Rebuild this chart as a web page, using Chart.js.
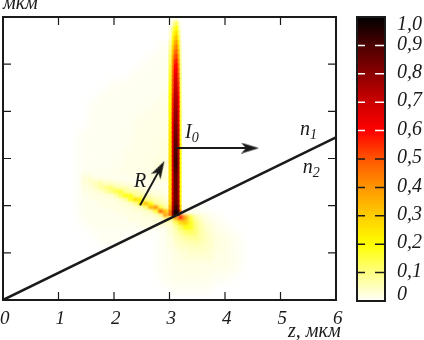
<!DOCTYPE html>
<html lang="ru">
<head>
<meta charset="UTF-8">
<title>Распределение интенсивности</title>
<script src="https://cdn.jsdelivr.net/npm/chart.js"></script>
<style>
  html, body { margin: 0; background: #fff; }
  canvas { position: absolute; top: 0; }
</style>
</head>
<body>
<canvas id="field" width="424" height="340" style="left:0"></canvas>
<canvas id="bar" width="84" height="340" style="left:340px"></canvas>
<script>
// colour scale
const hotStops = [0, .1, .2, .3, .4, .5, .6, .7, .8, .9, 1];
const hotColors = [[255,255,250],[255,255,130],[255,255,0],[255,205,0],[255,150,0],[255,85,0],[255,0,0],[205,0,0],[140,0,0],[75,0,0],[0,0,0]];
const barTicks = [0, .1, .2, .3, .4, .5, .6, .7, .8, .9, 1];

// axes
const zTicks = [0, 1, 2, 3, 4, 5, 6];
const interfaceZ = [0, 6];
const interfaceY = [0, 3.45];
const arrowI0Z = [3.12, 4.45];
const arrowI0Y = [3.22, 3.22];
const arrowRZ = [2.47, 2.83];
const arrowRY = [2.01, 2.78];

// pale background, one list per column, values in percent
const glowZ = [1.48, 1.66, 1.84, 2.02, 2.2, 2.38, 2.56, 2.74, 2.92, 3.1, 3.28, 3.46, 3.64, 3.82, 4.0, 4.18];
const glowY = [5.3, 5.1, 4.9, 4.7, 4.5, 4.3, 4.1, 3.9, 3.7, 3.5, 3.3, 3.1, 2.9, 2.7, 2.5, 2.3, 2.1, 1.9, 1.7, 1.5, 1.3, 1.1, .9, .7, .5, .3];
const glowValues = [
  [0,0,0,0,0,0,0,0,0,1,1,1,1,1,1,1,1,1,1,0,0,0,0,0,0,0],
  [0,0,0,0,0,0,1,1,1,1,1,1,1,1,1,1,1,1,1,1,0,0,0,0,0,0],
  [0,0,0,0,0,1,1,1,1,1,1,1,1,1,2,2,1,1,1,1,1,0,0,0,0,0],
  [0,0,0,0,1,1,1,1,1,1,1,1,1,2,2,2,2,1,1,1,1,0,0,0,0,0],
  [0,0,0,0,1,1,1,1,1,1,1,2,2,2,2,2,2,2,1,1,0,0,0,0,0,0],
  [0,0,0,1,1,1,1,1,2,2,2,2,2,2,2,2,2,2,1,1,0,0,0,0,0,0],
  [0,0,1,1,1,1,1,2,2,2,2,2,2,2,3,3,2,2,2,1,0,0,0,0,0,0],
  [0,1,1,1,1,1,2,2,2,2,2,2,3,3,3,3,3,3,2,0,0,0,0,0,0,0],
  [1,1,1,1,1,2,2,2,2,2,3,3,3,3,3,4,4,3,2,1,1,1,1,1,1,0],
  [1,1,1,1,1,1,1,1,1,1,1,1,1,1,1,1,1,1,2,3,3,3,3,2,2,1],
  [0,0,0,0,0,0,0,0,0,0,0,0,0,0,0,0,0,1,3,6,4,3,3,2,2,1],
  [0,0,0,0,0,0,0,0,0,0,0,0,0,0,0,0,0,1,2,4,4,3,3,2,2,1],
  [0,0,0,0,0,0,0,0,0,0,0,0,0,0,0,0,0,0,2,3,3,3,3,2,2,1],
  [0,0,0,0,0,0,0,0,0,0,0,0,0,0,0,0,0,0,1,2,3,3,2,2,1,0],
  [0,0,0,0,0,0,0,0,0,0,0,0,0,0,0,0,0,0,0,1,2,2,2,2,1,0],
  [0,0,0,0,0,0,0,0,0,0,0,0,0,0,0,0,0,0,0,0,1,1,1,1,0,0]
];

// reflected streak left of the beam
const streakZ = [1.48, 1.57, 1.66, 1.75, 1.84, 1.93, 2.02, 2.11, 2.2, 2.29, 2.38, 2.47, 2.56, 2.65, 2.74, 2.83, 2.92, 3.01];
const streakY = [2.71, 2.63, 2.54, 2.46, 2.37, 2.29, 2.2, 2.12, 2.03, 1.95, 1.87, 1.78, 1.7, 1.61];
const streakValues = [
  [1,2,3,3,2,2,1,1,1,1,1,1,0,0],
  [1,2,4,4,3,2,2,1,1,1,1,1,1,0],
  [1,1,3,6,5,3,2,2,1,1,1,1,1,1],
  [1,1,3,7,8,4,2,2,2,1,1,1,1,1],
  [0,1,2,5,10,7,3,2,2,2,1,1,1,1],
  [0,1,2,5,12,10,3,2,2,2,1,1,1,1],
  [0,1,1,4,8,15,7,3,2,2,2,1,1,1],
  [0,1,1,3,6,16,14,4,3,2,2,1,1,1],
  [0,1,1,2,6,9,20,8,3,3,2,2,1,1],
  [0,0,1,2,4,7,18,18,5,3,2,2,2,1],
  [0,0,1,1,3,7,9,26,10,4,3,2,2,1],
  [0,0,1,1,2,5,8,22,24,5,3,2,2,2],
  [0,0,1,1,2,3,7,10,33,12,4,3,2,2],
  [0,0,0,1,1,2,5,8,20,34,6,3,2,2],
  [0,0,0,1,1,2,3,6,9,40,16,4,3,2],
  [0,0,0,1,1,2,3,5,7,15,46,10,3,3],
  [0,0,0,1,1,1,2,3,5,8,30,40,8,3],
  [0,0,0,0,1,1,2,3,4,6,12,60,25,10]
];

// lobe under the interface
const lobeZ = [3.01, 3.1, 3.19, 3.28, 3.37, 3.46, 3.55, 3.64, 3.73];
const lobeY = [1.74, 1.63, 1.53, 1.42, 1.31, 1.2, 1.1, 1, .89];
const lobeValues = [
  [10,4,3,3,2,2,2,1,1],
  [40,15,8,6,5,4,3,2,2],
  [55,28,14,9,6,5,4,3,2],
  [35,30,20,12,8,6,4,3,3],
  [15,18,18,13,9,6,5,4,3],
  [7,10,11,11,9,7,5,4,3],
  [4,6,7,7,7,6,5,4,3],
  [2,3,4,5,5,5,4,4,3],
  [1,2,3,3,4,4,4,3,3]
];

// the beam
const beamZ = [3.01, 3.045, 3.08, 3.117, 3.153, 3.19];
const beamY = [5.95,5.85,5.75,5.65,5.55,5.45,5.35,5.25,5.15,5.05,4.95,4.85,4.75,4.65,4.55,4.45,4.35,4.25,4.15,4.05,3.95,3.85,3.75,3.65,3.55,3.45,3.35,3.25,3.15,3.05,2.95,2.85,2.75,2.65,2.55,2.45,2.35,2.25,2.15,2.05,1.95,1.85];
const beamValues = [
  [0,1,2,3,4,6,8,10,12,13,14,15,16,17,18,19,20,20,21,21,22,22,23,23,24,24,25,25,25,26,26,26,26,26,26,26,27,27,28,30,35,45],
  [1,5,10,14,18,22,26,30,34,38,40,43,45,47,48,50,52,54,55,56,57,58,59,60,61,62,63,64,65,66,67,67,66,65,65,65,66,66,66,68,72,80],
  [2,10,16,22,28,34,40,45,50,54,58,60,63,66,68,70,72,74,75,76,78,79,80,82,83,84,86,87,88,89,90,90,88,87,86,85,85,85,85,87,90,95],
  [3,14,20,26,32,38,44,48,53,57,60,63,66,68,70,72,74,75,77,78,80,81,82,84,85,86,87,88,90,91,92,92,90,88,88,87,87,87,86,88,92,98],
  [1,6,10,14,18,24,28,32,36,40,44,47,50,52,54,56,58,60,62,63,65,66,67,68,70,71,72,73,74,75,76,76,75,74,74,74,74,74,75,77,82,90],
  [0,1,2,3,4,5,6,7,8,9,10,10,11,12,12,13,14,14,15,15,16,16,17,17,18,18,19,19,20,20,20,20,20,20,20,20,21,21,22,24,30,45]
];

const ink = '#1a1a1a';
const serif = '"Liberation Serif", serif';

function hot(v) {
  let i = 0;
  while (i < hotStops.length - 2 && v > hotStops[i + 1]) i++;
  const t = Math.min(1, (v - hotStops[i]) / (hotStops[i + 1] - hotStops[i]));
  const c = hotColors[i].map((a, k) => Math.round(a + (hotColors[i + 1][k] - a) * t));
  return `rgb(${c[0]},${c[1]},${c[2]})`;
}

// one floating-bar dataset per column of a table
function cellSets(zs, ys, table, thick, rowH, blur, order) {
  return zs.map((z, i) => ({
    type: 'bar',
    order: order,
    blur: blur,
    barThickness: thick,
    borderWidth: 0,
    grouped: false,
    data: table[i].map((v, j) => ({ x: z, y: [ys[j] - rowH / 2, ys[j] + rowH / 2], v: v })).filter(d => d.v > 0),
    backgroundColor: c => c.raw ? hot(c.raw.v / 100) : 'transparent'
  }));
}

function arrowHead() {
  const c = document.createElement('canvas');
  c.width = 18; c.height = 11;
  const g = c.getContext('2d');
  g.fillStyle = ink;
  g.beginPath();
  g.moveTo(18, 5.5); g.lineTo(0, 0); g.lineTo(5, 5.5); g.lineTo(0, 11);
  g.closePath(); g.fill();
  return c;
}
const head = arrowHead();

function lineSet(zs, ys, tip, rot) {
  return {
    type: 'line',
    order: 0,
    data: zs.map((z, i) => ({ x: z, y: ys[i] })),
    borderColor: ink,
    borderWidth: tip ? 2 : 2.5,
    pointRadius: tip ? [0, 9] : 0,
    pointStyle: tip ? head : 'circle',
    pointRotation: rot || 0
  };
}

// blur only the soft layers, per dataset
const softCells = {
  id: 'softCells',
  beforeDatasetDraw(chart, args) {
    const b = chart.data.datasets[args.index].blur;
    if (b) { chart.ctx.save(); chart.ctx.filter = `blur(${b}px)`; }
  },
  afterDatasetDraw(chart, args) {
    if (chart.data.datasets[args.index].blur) chart.ctx.restore();
  }
};

function subText(ctx, main, sub, x, y) {
  ctx.font = `italic 20px ${serif}`;
  ctx.fillText(main, x, y);
  const w = ctx.measureText(main).width;
  ctx.font = `italic 14px ${serif}`;
  ctx.fillText(sub, x + w, y + 4);
}

const frame = {
  id: 'frame',
  afterDatasetsDraw(chart) {
    const { ctx, chartArea: a, scales: { x, y } } = chart;
    ctx.save();
    ctx.strokeStyle = ink;
    ctx.lineWidth = 1.2;
    ctx.beginPath();
    zTicks.slice(1, -1).forEach(t => {
      const p = x.getPixelForValue(t);
      ctx.moveTo(p, a.top); ctx.lineTo(p, a.top + 8);
      ctx.moveTo(p, a.bottom); ctx.lineTo(p, a.bottom - 8);
      const q = y.getPixelForValue(t);
      ctx.moveTo(a.left, q); ctx.lineTo(a.left + 8, q);
      ctx.moveTo(a.right, q); ctx.lineTo(a.right - 8, q);
    });
    ctx.stroke();
    ctx.lineWidth = 2;
    ctx.strokeRect(a.left, a.top, a.right - a.left, a.bottom - a.top);

    ctx.fillStyle = ink;
    ctx.textAlign = 'left';
    ctx.textBaseline = 'alphabetic';
    subText(ctx, 'I', '0', x.getPixelForValue(3.28), y.getPixelForValue(3.43));
    subText(ctx, 'n', '1', x.getPixelForValue(5.35), y.getPixelForValue(3.5));
    subText(ctx, 'n', '2', x.getPixelForValue(5.4), y.getPixelForValue(2.69));
    ctx.font = `italic 20px ${serif}`;
    ctx.fillText('R', x.getPixelForValue(2.36), y.getPixelForValue(2.4));
    ctx.font = `italic 20px ${serif}`;
    ctx.fillText('мкм', 3, 9);
    ctx.fillText('z, мкм', 288, 337);
    ctx.restore();
  }
};

new Chart(document.getElementById('field'), {
  type: 'bar',
  data: {
    datasets: [
      lineSet(interfaceZ, interfaceY),
      lineSet(arrowI0Z, arrowI0Y, true, 0),
      lineSet(arrowRZ, arrowRY, true, -61),
      ...cellSets(beamZ, beamY, beamValues, 2.4, .11, 0, 1),
      ...cellSets(lobeZ, lobeY, lobeValues, 5.5, .115, 1.5, 2),
      ...cellSets(streakZ, streakY, streakValues, 5.5, .095, 1.2, 3),
      ...cellSets(glowZ, glowY, glowValues, 11, .22, 5, 4)
    ]
  },
  options: {
    responsive: false,
    animation: false,
    events: [],
    layout: { autoPadding: false, padding: { left: 3, top: 17, right: 88, bottom: 0 } },
    plugins: { legend: { display: false }, tooltip: { enabled: false } },
    scales: {
      x: {
        type: 'linear',
        offset: false,
        min: 0,
        max: 6,
        afterFit(s) { s.height = 40; s.paddingLeft = 0; s.paddingRight = 0; },
        grid: { display: false, drawTicks: false },
        border: { display: false },
        ticks: {
          stepSize: 1,
          padding: 8,
          align: 'start',
          labelOffset: -3,
          maxRotation: 0,
          color: ink,
          font: { family: serif, style: 'italic', size: 19 }
        }
      },
      y: {
        display: false,
        min: 0,
        max: 6,
        afterFit(s) { s.width = 0; },
        grid: { drawTicks: false },
        ticks: { stepSize: 1 }
      }
    }
  },
  plugins: [softCells, frame]
});

const barFrame = {
  id: 'barFrame',
  afterDatasetsDraw(chart) {
    const { ctx, chartArea: a, scales: { y } } = chart;
    ctx.save();
    ctx.lineWidth = 1.5;
    barTicks.slice(1, -1).forEach(t => {
      const p = y.getPixelForValue(t);
      ctx.strokeStyle = t > .55 ? '#fff' : ink;
      ctx.beginPath();
      ctx.moveTo(a.left, p); ctx.lineTo(a.left + 8, p);
      ctx.moveTo(a.right, p); ctx.lineTo(a.right - 10, p);
      ctx.stroke();
    });
    ctx.strokeStyle = ink;
    ctx.lineWidth = 2;
    ctx.strokeRect(a.left, a.top, a.right - a.left, a.bottom - a.top);
    ctx.fillStyle = ink;
    ctx.font = `italic 20px ${serif}`;
    ctx.textAlign = 'left';
    ctx.textBaseline = 'middle';
    barTicks.forEach(t => {
      const nudge = t === 1 ? 8 : t === 0 ? -6 : -1;
      const text = t === 0 ? '0' : t.toFixed(1).replace('.', ',');
      ctx.fillText(text, a.right + 12, y.getPixelForValue(t) + nudge);
    });
    ctx.restore();
  }
};

new Chart(document.getElementById('bar'), {
  type: 'bar',
  data: {
    labels: ['I'],
    datasets: [{
      data: [[0, 1]],
      borderWidth: 0,
      barPercentage: 1,
      categoryPercentage: 1,
      backgroundColor(c) {
        const area = c.chart.chartArea;
        if (!area) return '#fff';
        const y = c.chart.scales.y;
        const g = c.chart.ctx.createLinearGradient(0, y.getPixelForValue(0), 0, y.getPixelForValue(1));
        hotStops.forEach((s) => g.addColorStop(s, hot(s)));
        return g;
      }
    }]
  },
  options: {
    responsive: false,
    animation: false,
    events: [],
    layout: { padding: { left: 17, top: 17, right: 39, bottom: 39 } },
    plugins: { legend: { display: false }, tooltip: { enabled: false } },
    scales: {
      x: { display: false },
      y: { display: false, min: 0, max: 1, afterFit(s) { s.width = 0; } }
    }
  },
  plugins: [barFrame]
});
</script>
</body>
</html>
